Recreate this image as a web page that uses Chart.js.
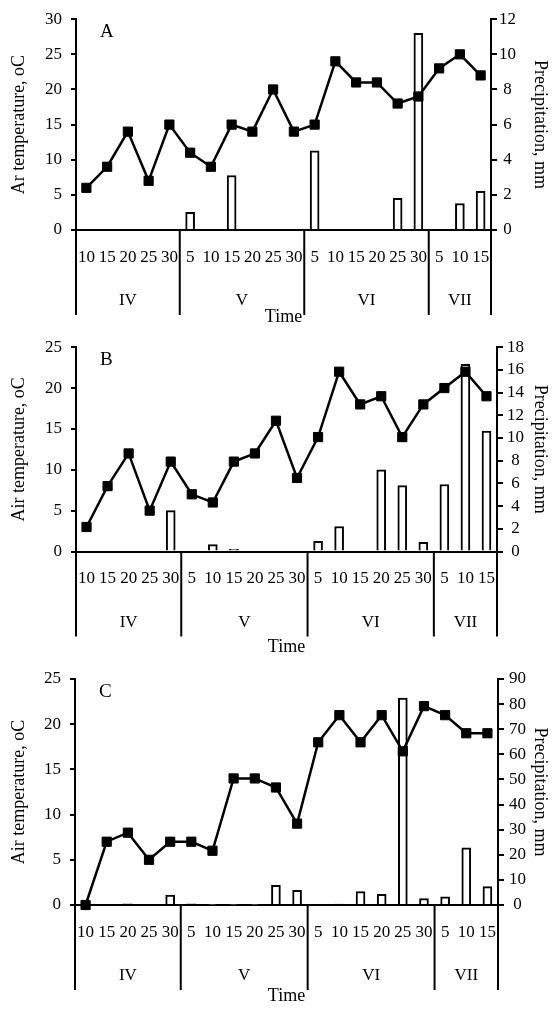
<!DOCTYPE html>
<html>
<head>
<meta charset="utf-8">
<script src="https://cdn.jsdelivr.net/npm/chart.js@4"></script>
<style>
  body { margin: 0; background: #fff; }
  .panel { position: absolute; left: 0; }
</style>
</head>
<body>
<div class="panel" style="top:0"><canvas id="chartA" width="559" height="328"></canvas></div>
<div class="panel" style="top:328px"><canvas id="chartB" width="559" height="330"></canvas></div>
<div class="panel" style="top:658px"><canvas id="chartC" width="559" height="351"></canvas></div>
<script>
// dias de medicion y meses
const days = ['10', '15', '20', '25', '30', '5', '10', '15', '20', '25', '30',
  '5', '10', '15', '20', '25', '30', '5', '10', '15'];
const months = ['IV', 'V', 'VI', 'VII'];
const monthSpans = [5, 6, 6, 3];

// temperatura del aire (oC) y precipitacion (mm)
const tempA = [6, 9, 14, 7, 15, 11, 9, 15, 14, 20, 14, 15, 24, 21, 21, 18, 19, 23, 25, 22];
const precipA = [0, 0, 0, 0, 0, 1.0, 0, 3.1, 0, 0, 0, 4.5, 0, 0, 0, 1.8, 11.2, 0, 1.5, 2.2];

const tempB = [3, 8, 12, 5, 11, 7, 6, 11, 12, 16, 9, 14, 22, 18, 19, 14, 18, 20, 22, 19];
const precipB = [0, 0, 0, 0, 3.6, 0, 0.6, 0.2, 0, 0, 0, 0.9, 2.2, 0, 7.2, 5.8, 0.8, 5.9, 16.5, 10.6];

const tempC = [0, 7, 8, 5, 7, 7, 6, 14, 14, 13, 9, 18, 21, 18, 21, 17, 22, 21, 19, 19];
const precipC = [0.3, 0, 0.5, 0, 4, 0.5, 0.3, 0.3, 0.3, 7.8, 5.8, 0, 0.4, 5.3, 4.2, 82.4, 2.6, 3.3, 22.8, 7.3];

const FONT = '"Liberation Serif", "Times New Roman", serif';

// separadores y etiquetas de meses debajo del eje x
const monthPlugin = {
  id: 'monthGroups',
  afterDraw(chart, args, opts) {
    const { ctx, chartArea } = chart;
    const x = chart.scales.x;
    const half = (x.getPixelForValue(1) - x.getPixelForValue(0)) / 2;
    ctx.save();
    ctx.strokeStyle = '#000';
    ctx.lineWidth = 2;
    ctx.fillStyle = '#000';
    ctx.font = '17px ' + FONT;
    ctx.textAlign = 'center';
    ctx.textBaseline = 'middle';
    const bounds = [x.getPixelForValue(0) - half];
    let i = 0;
    months.forEach((m, k) => {
      const start = i;
      i += monthSpans[k];
      const left = x.getPixelForValue(start) - half;
      const right = x.getPixelForValue(i - 1) + half;
      ctx.fillText(m, (left + right) / 2, chartArea.bottom + opts.labelOffset);
      bounds.push(right);
    });
    bounds.forEach((b) => {
      ctx.beginPath();
      ctx.moveTo(b, chartArea.bottom);
      ctx.lineTo(b, chartArea.bottom + opts.lineLength);
      ctx.stroke();
    });
    // letra del panel
    ctx.font = '19px ' + FONT;
    ctx.textAlign = 'left';
    ctx.fillText(opts.letter, chartArea.left + 24, chartArea.top + 13);
    ctx.restore();
  }
};

function makePanel(id, letter, temps, precip, cfg) {
  const ctx = document.getElementById(id).getContext('2d');
  const H = ctx.canvas.height;
  return new Chart(ctx, {
    type: 'bar',
    data: {
      labels: days,
      datasets: [
        {
          type: 'line',
          label: 'Air temperature',
          data: temps,
          yAxisID: 'y',
          borderColor: '#000',
          backgroundColor: '#000',
          borderWidth: 2.5,
          pointStyle: 'rect',
          pointRadius: 6.5,
          pointBorderWidth: 1,
          tension: 0,
          clip: false,
          order: 0,
        },
        {
          label: 'Precipitation',
          data: precip,
          yAxisID: 'y1',
          backgroundColor: '#fff',
          borderColor: '#000',
          borderWidth: 2,
          barThickness: 9,
          order: 1,
        },
      ],
    },
    options: {
      responsive: false,
      animation: false,
      layout: { padding: { top: cfg.top, bottom: cfg.padBottom, left: 0, right: 0 } },
      plugins: {
        legend: { display: false },
        tooltip: { enabled: false },
        monthGroups: { letter: letter, labelOffset: 71, lineLength: 85 },
      },
      scales: {
        x: {
          grid: { display: false, drawTicks: false },
          border: { display: true, color: '#000', width: 2 },
          ticks: {
            color: '#000',
            font: { family: FONT, size: 17 },
            padding: 17,
            autoSkip: false,
            maxRotation: 0,
          },
          title: {
            display: true,
            text: 'Time',
            color: '#000',
            font: { family: FONT, size: 18 },
            padding: { top: 0, bottom: 0 },
          },
          afterFit(scale) { scale.height = H - cfg.zero - cfg.padBottom; },
        },
        y: {
          position: 'left',
          min: 0,
          max: cfg.tMax,
          ticks: {
            stepSize: 5, autoSkip: false, color: '#000',
            font: { family: FONT, size: 17 }, padding: 9,
          },
          grid: { drawOnChartArea: false, color: '#000', lineWidth: 2, tickLength: 5 },
          border: { color: '#000', width: 2 },
          title: {
            display: true,
            text: cfg.tTitle,
            color: '#000',
            font: { family: FONT, size: 18 },
            padding: { top: 8, bottom: 0 },
          },
          afterFit(scale) { scale.width = cfg.left; },
        },
        y1: {
          position: 'right',
          min: 0,
          max: cfg.pMax,
          ticks: {
            stepSize: cfg.pStep, autoSkip: false, crossAlign: 'center', color: '#000',
            font: { family: FONT, size: 17 }, padding: cfg.pPad,
          },
          grid: { drawOnChartArea: false, color: '#000', lineWidth: 2, tickLength: 6 },
          border: { color: '#000', width: 2 },
          title: {
            display: true,
            text: 'Precipitation, mm',
            color: '#000',
            font: { family: FONT, size: 18 },
            padding: { top: 8, bottom: 0 },
          },
          afterFit(scale) { scale.width = 559 - cfg.right; },
        },
      },
    },
    plugins: [monthPlugin],
  });
}

makePanel('chartA', 'A', tempA, precipA, {
  top: 17, zero: 230, padBottom: 0, left: 76, right: 491,
  tMax: 30, pMax: 12, pStep: 2, pPad: 2, tTitle: 'Ar temperature, oC',
});
makePanel('chartB', 'B', tempB, precipB, {
  top: 17, zero: 223.5, padBottom: 0, left: 76, right: 497,
  tMax: 25, pMax: 18, pStep: 2, pPad: 4, tTitle: 'Air temperature, oC',
});
makePanel('chartC', 'C', tempC, precipC, {
  top: 21, zero: 247, padBottom: 2, left: 75, right: 498,
  tMax: 25, pMax: 90, pStep: 10, pPad: 5, tTitle: 'Air temperature, oC',
});
</script>
</body>
</html>
